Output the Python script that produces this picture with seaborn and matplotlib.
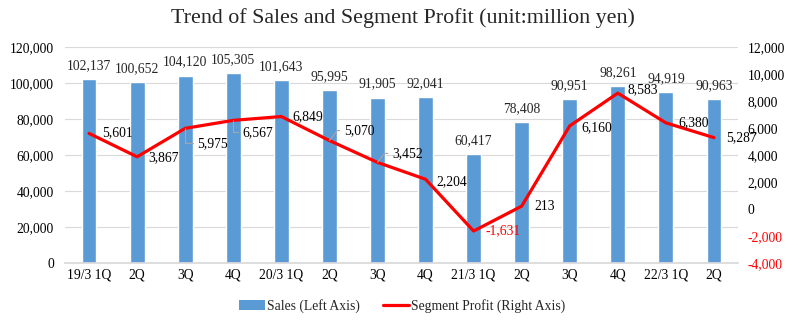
import matplotlib
matplotlib.use("Agg")
import matplotlib.pyplot as plt
import seaborn as sns
import pandas as pd
from matplotlib.patches import Patch
from matplotlib.lines import Line2D

categories = ["19/3 1Q", "2Q", "3Q", "4Q", "20/3 1Q", "2Q", "3Q", "4Q",
              "21/3 1Q", "2Q", "3Q", "4Q", "22/3 1Q", "2Q"]
sales = [102137, 100652, 104120, 105305, 101643, 95995, 91905, 92041,
         60417, 78408, 90951, 98261, 94919, 90963]
profit = [5601, 3867, 5975, 6567, 6849, 5070, 3452, 2204,
          -1631, 213, 6160, 8583, 6380, 5287]
left_ticks = list(range(0, 120001, 20000))
right_ticks = list(range(-4000, 12001, 2000))

sns.set_theme(style="white")
plt.rcParams['font.family'] = ['Liberation Serif', 'DejaVu Serif']

BAR = "#5B9BD5"
RED = "#FF0000"
FS = 9.8

fig = plt.figure(figsize=(8.05, 3.27), dpi=100)
ax = fig.add_axes([65 / 805, 64 / 327, 673 / 805, 216 / 327])

keys = [f"{i}" for i in range(len(categories))]
df = pd.DataFrame({"key": keys, "sales": sales, "profit": profit})
sns.barplot(data=df, x="key", y="sales", order=keys, color=BAR, width=0.31,
            saturation=1, ax=ax)
ax.set_xlim(-0.5, len(keys) - 0.5)
ax.set_ylim(0, 120000)
ax.set_yticks(left_ticks)
ax.set_yticklabels([f"{v:,}" for v in left_ticks], fontsize=FS)
ax.set_xticks(range(len(keys)))
ax.set_xticklabels(categories, fontsize=FS)
ax.set_xlabel("")
ax.set_ylabel("")
ax.grid(axis="y", color="#D9D9D9", linewidth=0.8)
ax.set_axisbelow(True)
for s in ["left", "right", "top"]:
    ax.spines[s].set_visible(False)
ax.spines["bottom"].set_color("#D9D9D9")
ax.tick_params(axis="y", length=0, pad=8, colors="black")
ax.tick_params(axis="x", length=0, pad=4, colors="black")

for i, v in enumerate(sales):
    ax.annotate(f"{v:,}", (i, v), xytext=(0, 5), textcoords="offset points",
                ha="center", va="bottom", fontsize=FS)

ax2 = ax.twinx()
sns.lineplot(x=list(range(len(keys))), y=profit, color=RED, linewidth=2.3,
             ax=ax2, legend=False)
ax2.set_ylim(-4000, 12000)
ax2.set_yticks(right_ticks)
ax2.set_yticklabels([f"{v:,}" for v in right_ticks], fontsize=FS)
for lbl, v in zip(ax2.get_yticklabels(), right_ticks):
    lbl.set_color(RED if v < 0 else "black")
for s in ["left", "right", "top", "bottom"]:
    ax2.spines[s].set_visible(False)
ax2.tick_params(axis="y", length=0, pad=7)
ax2.grid(False)

# label offsets in pixels (dx to label's left edge, dy upward) and leader style
offsets = [(13, 1, None), (11, -1, None), (12, -15, 90), (9, -12, 90),
           (11, 0, None), (15, 10, 52), (15, 9, 52), (11, -2, None),
           (12, 0, None), (13, 0, None), (12, -2, None), (10, 3, None),
           (12, 0, None), (12, 0, None)]
for i, (v, (dx, dy, lead)) in enumerate(zip(profit, offsets)):
    color = RED if v < 0 else "black"
    kw = dict(textcoords="offset points", ha="left", va="center",
              fontsize=FS, color=color)
    if lead is not None:
        kw["arrowprops"] = dict(arrowstyle="-", color="#A6A6A6",
                                linewidth=0.8, shrinkA=1, shrinkB=0,
                                relpos=(0, 0.5),
                                connectionstyle=f"angle,angleA=0,angleB={lead},rad=0")
    ax2.annotate(f"{v:,}", (i, v), xytext=(dx * 0.72, dy * 0.72), **kw)

fig.suptitle("Trend of Sales and Segment Profit (unit:million yen)",
             fontsize=15.8, y=0.975)

handles = [Patch(facecolor=BAR, edgecolor="none"),
           Line2D([0], [0], color=RED, linewidth=2.3)]
fig.legend(handles, ["Sales (Left Axis)", "Segment Profit (Right Axis)"],
           loc="center", bbox_to_anchor=(0.5, 0.064), ncol=2, frameon=False,
           fontsize=FS, handlelength=1.9, handletextpad=0.15, columnspacing=1.7)

fig.savefig("out.png", dpi=100)
